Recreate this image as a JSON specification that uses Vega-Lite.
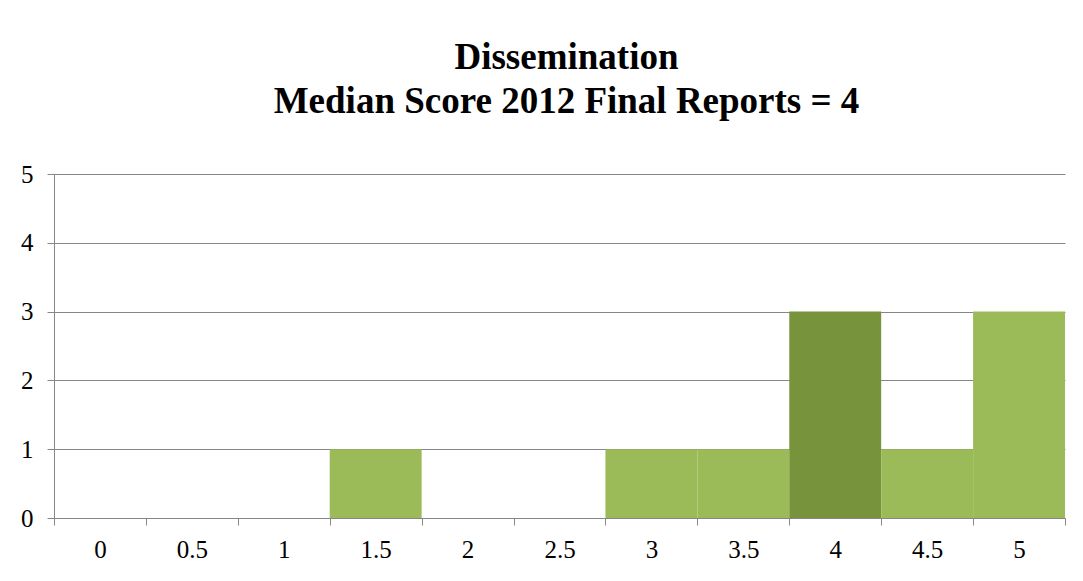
{
  "$schema": "https://vega.github.io/schema/vega-lite/v6.json",
  "autosize": {"type": "none"},
  "padding": {"left": 54, "top": 174, "right": 18, "bottom": 63},
  "width": 1011,
  "height": 344,
  "background": "white",
  "title": {
    "text": ["Dissemination", "Median Score 2012 Final Reports = 4"],
    "font": "Liberation Serif",
    "fontSize": 37,
    "fontWeight": "bold",
    "lineHeight": 44,
    "color": "black",
    "anchor": "middle",
    "dx": 7,
    "offset": 41
  },
  "data": {
    "values": [
      {"score": 0, "count": 0},
      {"score": 0.5, "count": 0},
      {"score": 1, "count": 0},
      {"score": 1.5, "count": 1},
      {"score": 2, "count": 0},
      {"score": 2.5, "count": 0},
      {"score": 3, "count": 1},
      {"score": 3.5, "count": 1},
      {"score": 4, "count": 3},
      {"score": 4.5, "count": 1},
      {"score": 5, "count": 3}
    ]
  },
  "mark": {"type": "bar", "strokeWidth": 0},
  "encoding": {
    "x": {
      "field": "score",
      "type": "ordinal",
      "sort": "ascending",
      "scale": {"paddingInner": 0, "paddingOuter": 0},
      "axis": {
        "title": null,
        "labelAngle": 0,
        "tickBand": "extent",
        "grid": false,
        "ticks": true,
        "tickSize": 7,
        "tickColor": "#868686",
        "domainColor": "#868686",
        "labelPadding": 12,
        "labelFont": "Liberation Serif",
        "labelFontSize": 25,
        "labelColor": "black"
      }
    },
    "y": {
      "field": "count",
      "type": "quantitative",
      "scale": {"domain": [0, 5], "nice": false},
      "axis": {
        "title": null,
        "values": [0, 1, 2, 3, 4, 5],
        "grid": true,
        "gridColor": "#868686",
        "tickSize": 7,
        "tickColor": "#868686",
        "domainColor": "#868686",
        "labelPadding": 14,
        "labelFont": "Liberation Serif",
        "labelFontSize": 25,
        "labelColor": "black"
      }
    },
    "color": {
      "condition": {"test": "datum.score === 4", "value": "#77933C"},
      "value": "#9BBB59"
    }
  },
  "config": {
    "view": {"stroke": null},
    "axis": {"gridOpacity": 1, "domainOpacity": 1}
  }
}
